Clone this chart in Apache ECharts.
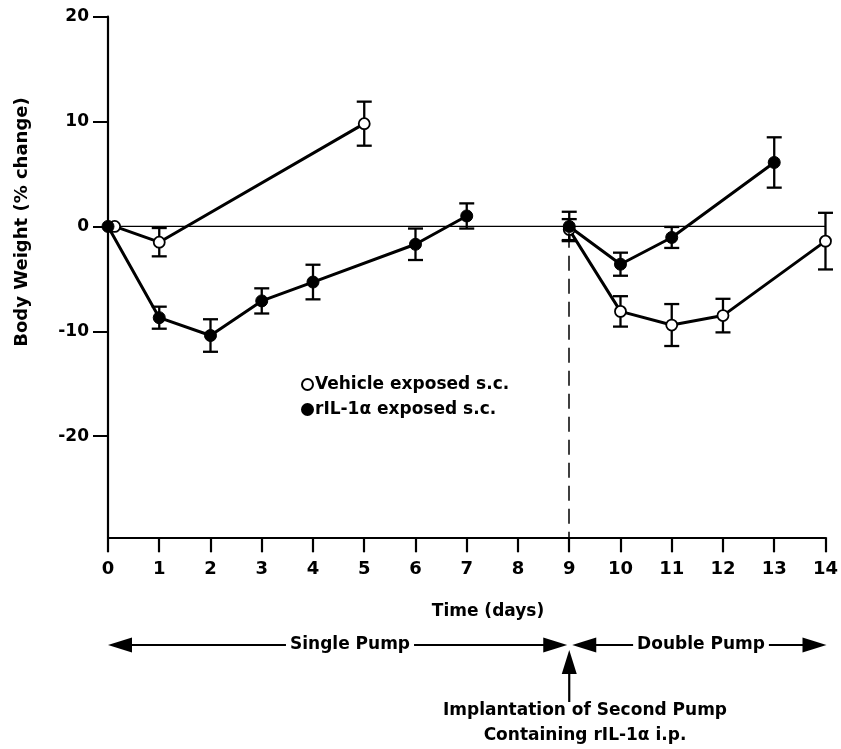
<!DOCTYPE html>
<html>
<head>
<meta charset="utf-8">
<script src="https://cdn.jsdelivr.net/npm/echarts@6/dist/echarts.min.js"></script>
<style>
html,body{margin:0;padding:0;background:#fff;}
#chart{width:841px;height:749px;}
</style>
</head>
<body>
<div id="chart"></div>
<script>
// ---- data ----
var xTicks = [0,1,2,3,4,5,6,7,8,9,10,11,12,13,14];
var yTickLabels = [-20, -10, 0, 10, 20];

var vehicleName = 'Vehicle exposed s.c.';
var rilName = 'rIL-1\u03b1 exposed s.c.';

var vehicleDays1 = [0.13, 1, 5];
var vehicleVals1 = [0, -1.5, 9.8];
var vehicleErr1  = [0, 1.35, 2.1];

var vehicleDays2 = [9, 10, 11, 12, 14];
var vehicleVals2 = [-0.3, -8.1, -9.4, -8.5, -1.4];
var vehicleErr2  = [1.0, 1.45, 2.0, 1.6, 2.7];

var rilDays1 = [0, 1, 2, 3, 4, 6, 7];
var rilVals1 = [0, -8.7, -10.4, -7.1, -5.3, -1.7, 1.0];
var rilErr1  = [0, 1.05, 1.55, 1.2, 1.65, 1.5, 1.2];

var rilDays2 = [9, 10, 11, 13];
var rilVals2 = [0, -3.6, -1.05, 6.1];
var rilErr2  = [1.4, 1.1, 1.0, 2.4];

var secondPumpDay = 9;

// ---- helpers ----
function pts(days, vals){ return days.map(function(d,i){ return [d, vals[i]]; }); }
function errs(days, vals, e){
  var out = [];
  days.forEach(function(d,i){ if (e[i] > 0) out.push([d, vals[i]-e[i], vals[i]+e[i]]); });
  return out;
}
var FONT = 'DejaVu Sans';
var errData = [].concat(
  errs(vehicleDays1, vehicleVals1, vehicleErr1),
  errs(vehicleDays2, vehicleVals2, vehicleErr2),
  errs(rilDays1, rilVals1, rilErr1),
  errs(rilDays2, rilVals2, rilErr2)
);

var openStyle = {color:'#fff', borderColor:'#000', borderWidth:1.8};
var fillStyle = {color:'#000', borderColor:'#000', borderWidth:1};

function lineSeries(name, data, style, size){
  return {
    name: name, type:'line', data: data, z: 3,
    symbol:'circle', symbolSize: size,
    itemStyle: style,
    lineStyle: {color:'#000', width:3},
    emphasis: {disabled:true},
    animation:false
  };
}

var chart = echarts.init(document.getElementById('chart'), null, {renderer:'canvas'});
var option = {
  backgroundColor:'#fff',
  animation:false,
  grid: {left:108, right:9, top:16.7, bottom:211.7, containLabel:false},
  legend: {
    data:[vehicleName, rilName],
    orient:'vertical', left:296, top:371,
    itemWidth:11, itemHeight:11, itemGap:8,
    icon:'circle',
    textStyle:{fontFamily:FONT, fontWeight:'bold', fontSize:17, color:'#000', padding:[0,0,0,-3]},
    selectedMode:false
  },
  xAxis: {
    type:'value', min:0, max:14, interval:1,
    axisLine:{onZero:false, lineStyle:{color:'#000', width:2.2}},
    axisTick:{length:15, lineStyle:{color:'#000', width:2.2}},
    axisLabel:{margin:23, fontFamily:FONT, fontWeight:'bold', fontSize:18, color:'#000'},
    splitLine:{show:false}
  },
  yAxis: {
    type:'value', min:-29.64, max:20,
    axisLine:{show:true, onZero:false, lineStyle:{color:'#000', width:2.2}},
    axisTick:{show:true, length:15, customValues:yTickLabels, lineStyle:{color:'#000', width:2}},
    axisLabel:{margin:19, customValues:yTickLabels, fontFamily:FONT, fontWeight:'bold', fontSize:17, color:'#000'},
    splitLine:{show:false}
  },
  series: [
    {
      type:'custom', name:'err', z:1, animation:false,
      renderItem:function(params, api){
        var x = api.value(0);
        var lo = api.coord([x, api.value(1)]);
        var hi = api.coord([x, api.value(2)]);
        var w = 7.5;
        var st = {stroke:'#000', lineWidth:2.3};
        return {type:'group', children:[
          {type:'line', shape:{x1:lo[0], y1:lo[1], x2:hi[0], y2:hi[1]}, style:st},
          {type:'line', shape:{x1:lo[0]-w, y1:lo[1], x2:lo[0]+w, y2:lo[1]}, style:st},
          {type:'line', shape:{x1:hi[0]-w, y1:hi[1], x2:hi[0]+w, y2:hi[1]}, style:st}
        ]};
      },
      data: errData
    },
    {
      type:'line', name:'ref', data:[[0,0],[14,0]], symbol:'none', z:0,
      lineStyle:{color:'#000', width:1.3}, silent:true, animation:false,
      markLine:{
        silent:true, symbol:'none', animation:false, label:{show:false},
        lineStyle:{color:'#000', width:1.5, type:[15,8]},
        data:[[{coord:[secondPumpDay, -0.6]}, {coord:[secondPumpDay, -29.64]}]]
      }
    },
    lineSeries(vehicleName, pts(vehicleDays1, vehicleVals1), openStyle, 11),
    lineSeries(vehicleName, pts(vehicleDays2, vehicleVals2), openStyle, 11),
    lineSeries(rilName, pts(rilDays1, rilVals1), fillStyle, 12),
    lineSeries(rilName, pts(rilDays2, rilVals2), fillStyle, 12)
  ]
};
chart.setOption(option);

// ---- annotations ----
var x0 = chart.convertToPixel({gridIndex:0}, [0, 0])[0];
var x9 = chart.convertToPixel({gridIndex:0}, [secondPumpDay, 0])[0];
var x14 = chart.convertToPixel({gridIndex:0}, [14, 0])[0];
var ay = 645;
var txt = {fontFamily:FONT, fontWeight:'bold', fontSize:17, fill:'#000'};
function T(text, x, y, extra){
  var s = Object.assign({}, txt, {text:text, x:x, y:y, align:'center', verticalAlign:'middle'}, extra||{});
  return {type:'text', style:s, z:10};
}
function arrowHead(tx, ty, dir){ // dir: -1 left-pointing, 1 right-pointing, 'up'
  var L = 24, H = 7.5;
  if (dir === 'up') return {type:'polygon', shape:{points:[[tx,ty],[tx-H,ty+L],[tx+H,ty+L]]}, style:{fill:'#000'}, z:10};
  return {type:'polygon', shape:{points:[[tx,ty],[tx-dir*L,ty-H],[tx-dir*L,ty+H]]}, style:{fill:'#000'}, z:10};
}
var lineSt = {stroke:'#000', lineWidth:2.2};
chart.setOption({
  graphic: [
    // axis titles
    T('Time (days)', 488, 612),
    {type:'text', x:22, y:222, rotation:Math.PI/2, z:10,
      style:Object.assign({}, txt, {text:'Body Weight (% change)', fontSize:18, align:'center', verticalAlign:'middle'})},
    // single pump arrow
    {type:'line', shape:{x1:x0+10, y1:ay, x2:x9-12, y2:ay}, style:lineSt, z:9},
    arrowHead(x0, ay, -1),
    arrowHead(x9-2, ay, 1),
    T('Single Pump', 350, ay, {backgroundColor:'#fff', padding:[0,4]}),
    // double pump arrow
    {type:'line', shape:{x1:x9+14, y1:ay, x2:x14-10, y2:ay}, style:lineSt, z:9},
    arrowHead(x9+3, ay, -1),
    arrowHead(x14+1, ay, 1),
    T('Double Pump', 701, ay, {backgroundColor:'#fff', padding:[0,4]}),
    // vertical arrow
    {type:'line', shape:{x1:x9, y1:668, x2:x9, y2:702}, style:lineSt, z:9},
    arrowHead(x9, 650, 'up'),
    T('Implantation of Second Pump', 585, 711),
    T('Containing rIL-1\u03b1 i.p.', 585, 736)
  ]
});
</script>
</body>
</html>
